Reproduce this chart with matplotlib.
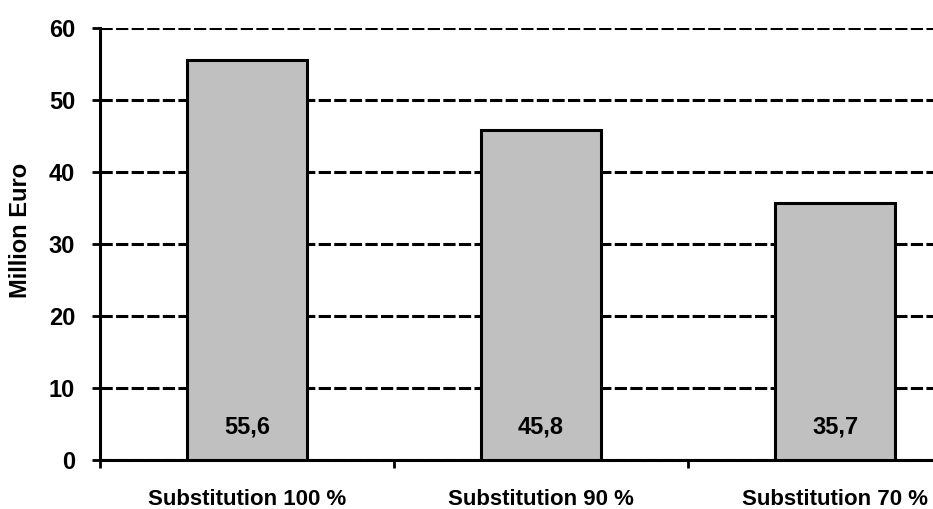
import matplotlib
matplotlib.use("Agg")
import matplotlib.pyplot as plt
import numpy as np

categories = ["Substitution 100 %", "Substitution 90 %", "Substitution 70 %"]
values = [55.6, 45.8, 35.7]
value_labels = ["55,6", "45,8", "35,7"]
y_ticks = [0, 10, 20, 30, 40, 50, 60]

plt.rcParams['font.family'] = ['Liberation Sans', 'DejaVu Sans']
plt.rcParams['font.weight'] = 'bold'

fig = plt.figure(figsize=(9.33, 5.09), dpi=100)
ax = fig.add_axes([100 / 933, 1 - 460 / 509, 833 / 933, 432 / 509])

x = np.arange(len(categories))
ax.bar(x, values, width=0.405, color="#c0c0c0", edgecolor="black", linewidth=2.2, zorder=3)

for xi, lab in zip(x, value_labels):
    ax.text(xi, 4.6, lab, ha="center", va="center", fontsize=17, fontweight="bold", zorder=4)

ax.set_ylim(0, 60)
ax.set_xlim(-0.5, -0.5 + 833 / 294)
ax.set_yticks(y_ticks)
ax.yaxis.grid(True, color="black", linestyle=(0, (4, 1.1)), linewidth=2.2, zorder=0)
ax.set_axisbelow(True)

# category separators as major ticks, labels on minor ticks
ax.set_xticks([-0.5, 0.5, 1.5])
ax.set_xticklabels([])
ax.set_xticks(x, minor=True)
ax.set_xticklabels(categories, minor=True, fontsize=16, fontweight="bold")
ax.tick_params(axis="x", which="major", length=6, width=2, direction="out")
ax.tick_params(axis="x", which="minor", length=0, pad=21)
ax.tick_params(axis="y", length=6, width=2, labelsize=17, pad=12)

for s in ["top", "right"]:
    ax.spines[s].set_visible(False)
for s in ["left", "bottom"]:
    ax.spines[s].set_linewidth(2.2)

ax.set_ylabel("Million Euro", fontsize=17, fontweight="bold")
ax.yaxis.set_label_coords(-0.082, 0.532)

fig.savefig("out.png", dpi=100)
